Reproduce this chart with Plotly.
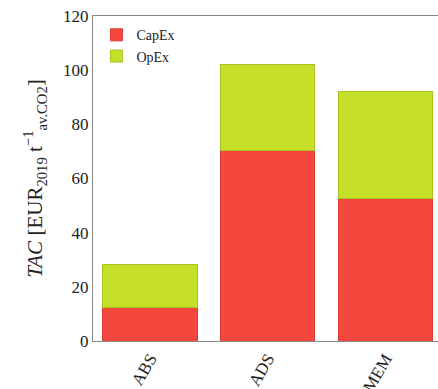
import plotly.graph_objects as go

# Total annualised cost per technology, split into capital and operating parts
technologies = ["ABS", "ADS", "MEM"]
capex = [12.2, 70.5, 52.8]
opex = [16.2, 31.5, 39.5]

red = "#F4473D"
green = "#C6E02A"

fig = go.Figure()
fig.add_trace(go.Bar(x=technologies, y=capex, name="CapEx",
                     marker=dict(color=red, line=dict(color="#D83A30", width=1))))
fig.add_trace(go.Bar(x=technologies, y=opex, name="OpEx",
                     marker=dict(color=green, line=dict(color="#A8C020", width=1))))

fig.update_layout(
    barmode="stack",
    bargap=0.2,
    width=438, height=389,
    margin=dict(l=93, r=0, t=16, b=48),
    paper_bgcolor="white",
    plot_bgcolor="white",
    font=dict(family="Liberation Serif", size=17, color="#222"),
    legend=dict(x=0.01, y=0.99, xanchor="left", yanchor="top",
                traceorder="normal",
                bgcolor="rgba(0,0,0,0)", font=dict(size=14),
                itemwidth=30, tracegroupgap=0),
    showlegend=True,
)
fig.update_xaxes(
    range=[-0.485, 2.45],
    tickangle=-60, automargin=False,
    showline=True, linecolor="#888", linewidth=1, mirror=True,
    ticks="", showgrid=False,
)
fig.update_yaxes(
    range=[0, 120], dtick=20, automargin=False,
    showline=True, linecolor="#888", linewidth=1, mirror=False,
    ticks="", showgrid=False,
    title=dict(text="<i>TAC</i> [EUR<sub>2019</sub> t<sup>−1</sup><sub>av.CO2</sub>]",
               standoff=14, font=dict(size=21)),
)

fig.write_html("out.html")
